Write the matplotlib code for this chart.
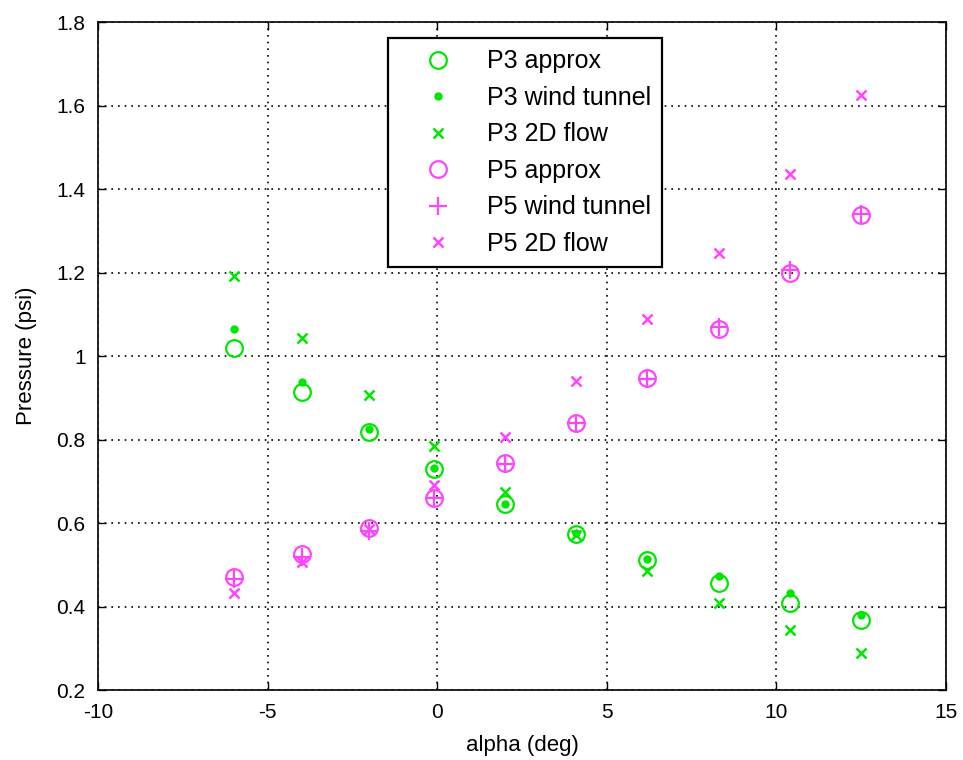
import numpy as np
import matplotlib
matplotlib.use('Agg')
import matplotlib.pyplot as plt
from matplotlib.ticker import FuncFormatter

#Data
alpha = [-6, -4, -2, -0.1, 2, 4.1, 6.2, 8.3, 10.4, 12.5]

p3_approx = [1.02, 0.914, 0.818, 0.729, 0.645, 0.573, 0.511, 0.456, 0.408, 0.368]
p3_tunnel = [1.065, 0.938, 0.825, 0.732, 0.645, 0.576, 0.514, 0.473, 0.432, 0.380]
p3_2d = [1.192, 1.043, 0.907, 0.784, 0.674, 0.572, 0.485, 0.408, 0.344, 0.289]

p5_approx = [0.471, 0.526, 0.588, 0.660, 0.744, 0.840, 0.947, 1.065, 1.199, 1.338]
p5_tunnel = [0.466, 0.518, 0.582, 0.660, 0.742, 0.840, 0.945, 1.070, 1.205, 1.340]
p5_2d = [0.432, 0.507, 0.585, 0.691, 0.806, 0.940, 1.089, 1.247, 1.436, 1.625]

xticks = [-10, -5, 0, 5, 10, 15]
yticks = [0.2, 0.4, 0.6, 0.8, 1.0, 1.2, 1.4, 1.6, 1.8]

green = '#00e600'
magenta = '#ff44ff'

plt.rcParams['font.family'] = ['Liberation Sans', 'DejaVu Sans']
plt.rcParams['axes.unicode_minus'] = False

fig = plt.figure(figsize=(9.63, 7.6), dpi=100)
ax = fig.add_axes([0.1018, 0.0921, 0.8805, 0.8789])

ax.plot(alpha, p3_approx, 'o', mfc='none', mec=green, mew=1.6, ms=12, label='P3 approx')
ax.plot(alpha, p3_tunnel, 'o', color=green, ms=5, label='P3 wind tunnel')
ax.plot(alpha, p3_2d, 'x', color=green, mew=1.8, ms=7, label='P3 2D flow')
ax.plot(alpha, p5_approx, 'o', mfc='none', mec=magenta, mew=1.6, ms=12, label='P5 approx')
ax.plot(alpha, p5_tunnel, '+', color=magenta, mew=1.6, ms=13, label='P5 wind tunnel')
ax.plot(alpha, p5_2d, 'x', color=magenta, mew=1.8, ms=7, label='P5 2D flow')

ax.set_xlim(-10, 15)
ax.set_ylim(0.2, 1.8)
ax.set_xticks(xticks)
ax.set_yticks(yticks)
ax.yaxis.set_major_formatter(FuncFormatter(lambda v, p: '%g' % v))
ax.grid(True, color='black', linestyle=(0, (1, 3)), linewidth=1.2)
ax.tick_params(direction='in', top=True, right=True, labelsize=15, length=6, width=1, pad=9)
for s in ax.spines.values():
    s.set_linewidth(1.2)

ax.set_xlabel('alpha (deg)', fontsize=16, labelpad=10)
ax.set_ylabel('Pressure (psi)', fontsize=16, labelpad=14)

leg = ax.legend(loc='upper center', bbox_to_anchor=(0.5035, 0.976), fontsize=18,
                frameon=True, fancybox=False, edgecolor='black', framealpha=1,
                handlelength=3.1, handletextpad=0.4, borderpad=0.45, labelspacing=0.5,
                borderaxespad=0)
leg.get_frame().set_linewidth(1.6)

fig.savefig('out.png', dpi=100)
